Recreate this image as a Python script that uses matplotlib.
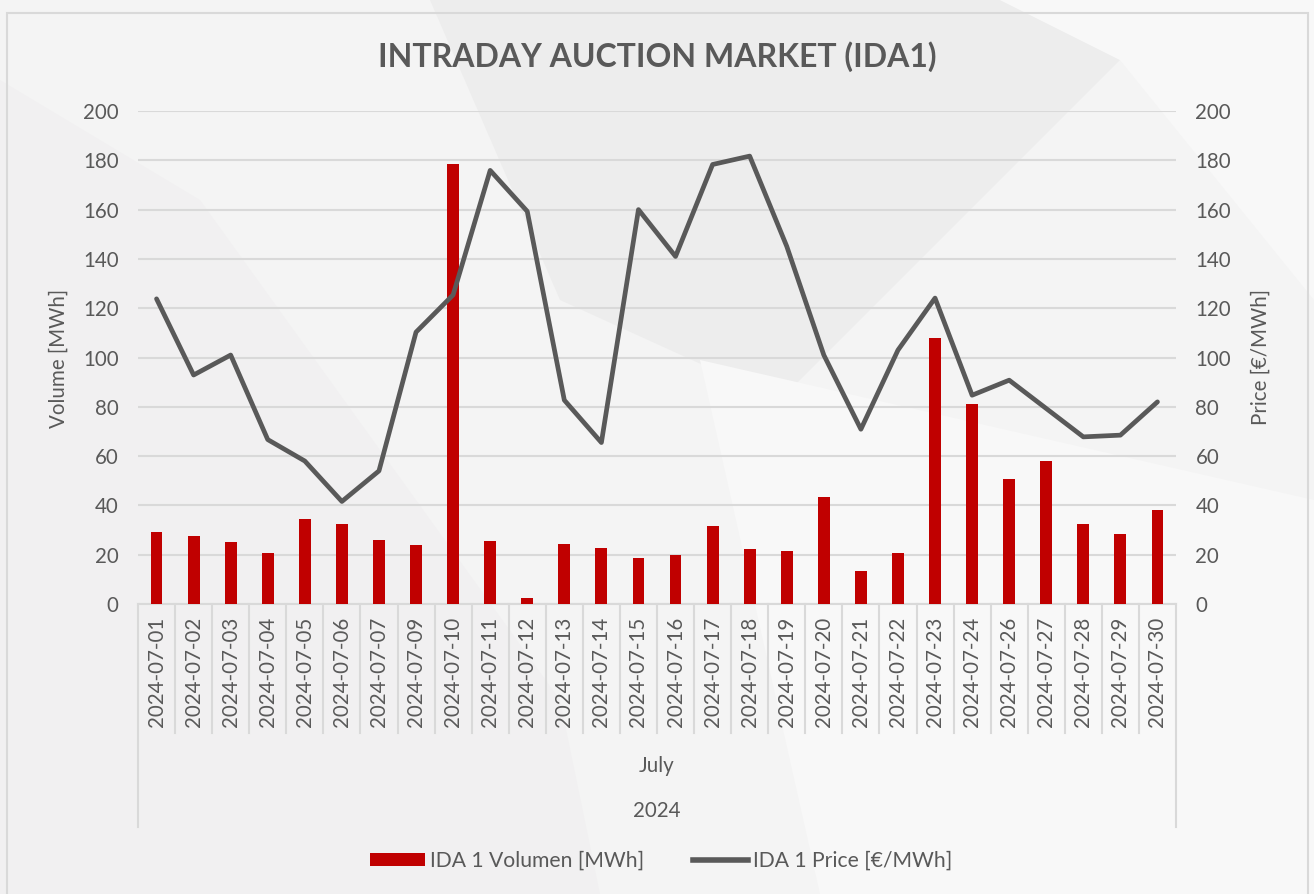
import matplotlib
matplotlib.use("Agg")
import matplotlib.pyplot as plt
from matplotlib.patches import Polygon, Rectangle, Patch
from matplotlib.lines import Line2D
import numpy as np

dates = ["2024-07-01", "2024-07-02", "2024-07-03", "2024-07-04", "2024-07-05",
         "2024-07-06", "2024-07-07", "2024-07-09", "2024-07-10", "2024-07-11",
         "2024-07-12", "2024-07-13", "2024-07-14", "2024-07-15", "2024-07-16",
         "2024-07-17", "2024-07-18", "2024-07-19", "2024-07-20", "2024-07-21",
         "2024-07-22", "2024-07-23", "2024-07-24", "2024-07-26", "2024-07-27",
         "2024-07-28", "2024-07-29", "2024-07-30"]
volume = [29.1, 27.4, 25.1, 20.7, 34.6, 32.5, 25.8, 23.9, 178.7, 25.5,
          2.4, 24.4, 22.8, 18.8, 19.9, 31.7, 22.4, 21.3, 43.6, 13.4,
          20.7, 107.9, 81.0, 50.9, 57.9, 32.5, 28.6, 38.2]
price = [123.8, 92.9, 101.0, 66.7, 58.0, 41.6, 54.0, 110.3, 125.4, 175.9,
         159.3, 82.7, 65.5, 160.0, 141.0, 178.3, 181.7, 145.1, 101.0, 70.9,
         103.0, 124.1, 84.7, 90.8, 79.3, 67.8, 68.5, 82.0]
month_label = "July"
year_label = "2024"
yticks = list(range(0, 201, 20))

TXT = "#595959"
GRID = "#D9D9D9"
RED = "#C00000"
LINE = "#595959"
FONT = ["Lato", "DejaVu Sans"]
plt.rcParams["font.family"] = FONT
FS = 14.8

W, H = 1314, 894
fig = plt.figure(figsize=(W / 100, H / 100), dpi=100)
fig.patch.set_facecolor("#F4F4F4")

# faint background decoration
def fpoly(pts, color, alpha=1.0):
    p = Polygon([(x / W, 1 - y / H) for x, y in pts], closed=True,
                transform=fig.transFigure, facecolor=color, edgecolor="none",
                alpha=alpha, zorder=-10)
    fig.patches.append(p)

fpoly([(430, 0), (1000, 0), (1120, 60), (780, 400), (560, 300)], "#EDEDED")
fpoly([(0, 80), (200, 200), (560, 700), (600, 894), (0, 894)], "#F1F0F1")
fpoly([(700, 360), (1314, 500), (1314, 894), (820, 894)], "#F8F8F8")
fpoly([(1000, 0), (1314, 0), (1314, 300), (1120, 60)], "#F8F8F8")

# chart border
fig.patches.append(Rectangle((7 / W, -0.1), (1308 - 7) / W, 1.1 - 13 / H,
                             transform=fig.transFigure, facecolor="none",
                             edgecolor=GRID, linewidth=1.5, zorder=-5))

L, R, T, B = 138, 1176, 111, 604
ax = fig.add_axes([L / W, 1 - B / H, (R - L) / W, (B - T) / H])
ax.set_facecolor("none")
x = np.arange(len(dates))
ax.bar(x, volume, width=0.32, color=RED, zorder=3)
ax.set_xlim(-0.5, len(dates) - 0.5)
ax.set_ylim(0, 200)
ax.set_yticks(yticks)
ax.yaxis.grid(True, color=GRID, linewidth=1.5, zorder=0)
ax.set_axisbelow(True)
for s in ["left", "right", "top"]:
    ax.spines[s].set_visible(False)
ax.spines["bottom"].set_color(GRID)
ax.spines["bottom"].set_linewidth(1.5)
ax.tick_params(axis="y", length=0, pad=14, labelsize=FS, labelcolor=TXT)
ax.set_xticks(x)
ax.set_xticklabels(dates, rotation=90, fontsize=FS, color=TXT)
ax.tick_params(axis="x", length=0, pad=9)

ax2 = ax.twinx()
ax2.plot(x, price, color=LINE, linewidth=3.4, solid_capstyle="round",
         solid_joinstyle="round", zorder=4)
ax2.set_ylim(0, 200)
ax2.set_yticks(yticks)
for s in ["left", "right", "top", "bottom"]:
    ax2.spines[s].set_visible(False)
ax2.tick_params(axis="y", length=0, pad=14, labelsize=FS, labelcolor=TXT)

# axis titles
fig.text(59 / W, 1 - 358 / H, "Volume [MWh]", rotation=90, ha="center",
         va="center", fontsize=FS, color=TXT)
fig.text(1261 / W, 1 - 357 / H, "Price [€/MWh]", rotation=90, ha="center",
         va="center", fontsize=FS, color=TXT)

# category separators (multi-level axis)
ph = B - T
tick_bottom = -(733 - B) / ph
outer_bottom = -(827 - B) / ph
trans = ax.get_xaxis_transform()
for b in np.arange(0.5, len(dates) - 1, 1.0):
    ax.add_line(Line2D([b, b], [0, tick_bottom], transform=trans, color=GRID,
                       linewidth=1.5, clip_on=False))
for b in [-0.5, len(dates) - 0.5]:
    ax.add_line(Line2D([b, b], [0, outer_bottom], transform=trans, color=GRID,
                       linewidth=1.5, clip_on=False))
ax.text(0.5, -(766 - B) / ph, month_label, transform=ax.transAxes,
        ha="center", va="center", fontsize=FS, color=TXT)
ax.text(0.5, -(811 - B) / ph, year_label, transform=ax.transAxes,
        ha="center", va="center", fontsize=FS, color=TXT)

fig.text(657 / W, 1 - 57 / H, "INTRADAY AUCTION MARKET (IDA1)", ha="center",
         va="center", fontsize=23, fontweight="bold", color=TXT)

handles = [Patch(facecolor=RED, edgecolor="none", label="IDA 1 Volumen [MWh]"),
           Line2D([], [], color=LINE, linewidth=4, label="IDA 1 Price [€/MWh]")]
fig.legend(handles=handles, loc="center", bbox_to_anchor=(661 / W, 1 - 861 / H),
           ncol=2, frameon=False, fontsize=FS + 0.4, labelcolor=TXT,
           handlelength=2.6, handleheight=0.6, handletextpad=0.25,
           columnspacing=2.3)

fig.savefig("out.png", dpi=100, facecolor=fig.get_facecolor())
